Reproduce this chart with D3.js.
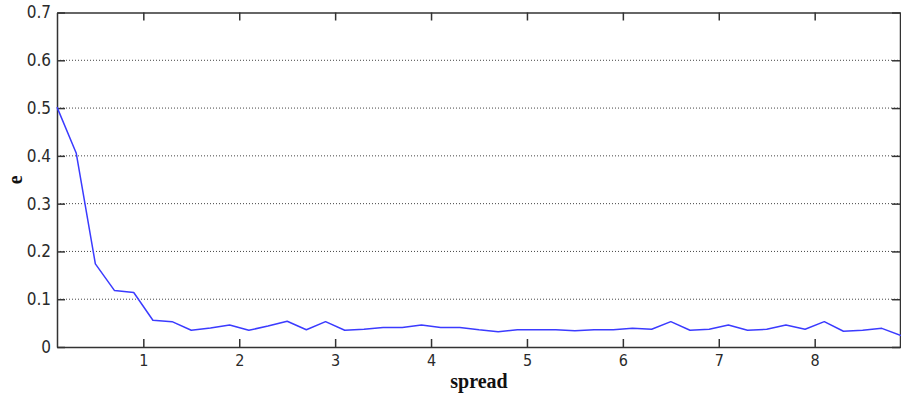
<!DOCTYPE html>
<html>
<head>
<meta charset="utf-8">
<script src="https://cdn.jsdelivr.net/npm/d3@7"></script>
<style>
  body { margin: 0; background: #fff; }
  .tick text { font-family: "Liberation Sans Narrow", "DejaVu Sans Condensed", sans-serif; fill: #2a2a2a; }
  .axis-label { font-family: "Liberation Serif", "Times New Roman", serif; font-weight: bold; fill: #111; }
</style>
</head>
<body>
<div id="chart"></div>
<script>
// spread values (x) and error e (y)
const spread = [0.1, 0.3, 0.5, 0.7, 0.9, 1.1, 1.3, 1.5, 1.7, 1.9, 2.1, 2.3, 2.5, 2.7, 2.9,
  3.1, 3.3, 3.5, 3.7, 3.9, 4.1, 4.3, 4.5, 4.7, 4.9, 5.1, 5.3, 5.5, 5.7, 5.9,
  6.1, 6.3, 6.5, 6.7, 6.9, 7.1, 7.3, 7.5, 7.7, 7.9, 8.1, 8.3, 8.5, 8.7, 8.9];
const errorE = [0.502, 0.406, 0.174, 0.118, 0.114, 0.056, 0.053, 0.035, 0.040, 0.046, 0.035, 0.044, 0.054, 0.036, 0.053,
  0.035, 0.037, 0.041, 0.041, 0.046, 0.041, 0.041, 0.036, 0.032, 0.036, 0.036, 0.036, 0.034, 0.036, 0.036,
  0.039, 0.037, 0.053, 0.035, 0.037, 0.046, 0.035, 0.037, 0.046, 0.037, 0.053, 0.033, 0.035, 0.039, 0.024];
const xTicks = [1, 2, 3, 4, 5, 6, 7, 8];
const yTicks = [0, 0.1, 0.2, 0.3, 0.4, 0.5, 0.6, 0.7];
const xDomain = [0.1, 8.9];
const yDomain = [0, 0.7];

const W = 901, H = 399;
const margin = { top: 12.5, right: 0, bottom: 52, left: 57 };
const width = W - margin.left - margin.right;
const height = H - margin.top - margin.bottom;

const svg = d3.select("#chart").append("svg")
  .attr("width", W)
  .attr("height", H);

const g = svg.append("g")
  .attr("transform", `translate(${margin.left}, ${margin.top})`);

const x = d3.scaleLinear().domain(xDomain).range([0, width]);
const y = d3.scaleLinear().domain(yDomain).range([height, 0]);

// dotted horizontal grid
g.append("g")
  .selectAll("line")
  .data(yTicks.filter(d => d > 0 && d < 0.7))
  .join("line")
  .attr("x1", 0).attr("x2", width)
  .attr("y1", d => y(d)).attr("y2", d => y(d))
  .attr("stroke", "#444")
  .attr("stroke-width", 1)
  .attr("stroke-dasharray", "1,2");

// box: bottom, left, top, right with inward ticks
const tickLen = 8;
const axisStyle = sel => {
  sel.select(".domain").attr("stroke", "#333").attr("stroke-width", 1.5);
  sel.selectAll(".tick line").attr("stroke", "#333").attr("stroke-width", 1.5);
};

g.append("g")
  .attr("class", "axis axis-x")
  .attr("transform", `translate(0, ${height})`)
  .call(d3.axisBottom(x).tickValues(xTicks).tickFormat(d3.format("d"))
    .tickSizeInner(-tickLen).tickSizeOuter(0).tickPadding(8))
  .call(axisStyle)
  .selectAll("text").style("font-size", "16px");

g.append("g")
  .attr("class", "axis axis-y")
  .call(d3.axisLeft(y).tickValues(yTicks).tickFormat(d => d === 0 ? "0" : d3.format(".1f")(d))
    .tickSizeInner(-tickLen).tickSizeOuter(0).tickPadding(6))
  .call(axisStyle)
  .selectAll("text").style("font-size", "17px");

g.append("g")
  .attr("class", "axis axis-top")
  .call(d3.axisTop(x).tickValues(xTicks).tickFormat("")
    .tickSizeInner(-tickLen).tickSizeOuter(0))
  .call(axisStyle);

g.append("g")
  .attr("class", "axis axis-right")
  .attr("transform", `translate(${width - 1}, 0)`)
  .call(d3.axisRight(y).tickValues(yTicks).tickFormat("")
    .tickSizeInner(-tickLen).tickSizeOuter(0))
  .call(axisStyle);

// data line
const line = d3.line()
  .x((d, i) => x(spread[i]))
  .y(d => y(d));

g.append("path")
  .datum(errorE)
  .attr("fill", "none")
  .attr("stroke", "#3b3bff")
  .attr("stroke-width", 1.5)
  .attr("stroke-linejoin", "round")
  .attr("d", line);

// axis labels
svg.append("text")
  .attr("class", "axis-label")
  .attr("x", margin.left + width / 2)
  .attr("y", 388)
  .attr("text-anchor", "middle")
  .style("font-size", "20px")
  .text("spread");

svg.append("text")
  .attr("class", "axis-label")
  .attr("transform", `translate(22, ${margin.top + height / 2}) rotate(-90)`)
  .attr("text-anchor", "middle")
  .style("font-size", "20px")
  .text("e");
</script>
</body>
</html>
